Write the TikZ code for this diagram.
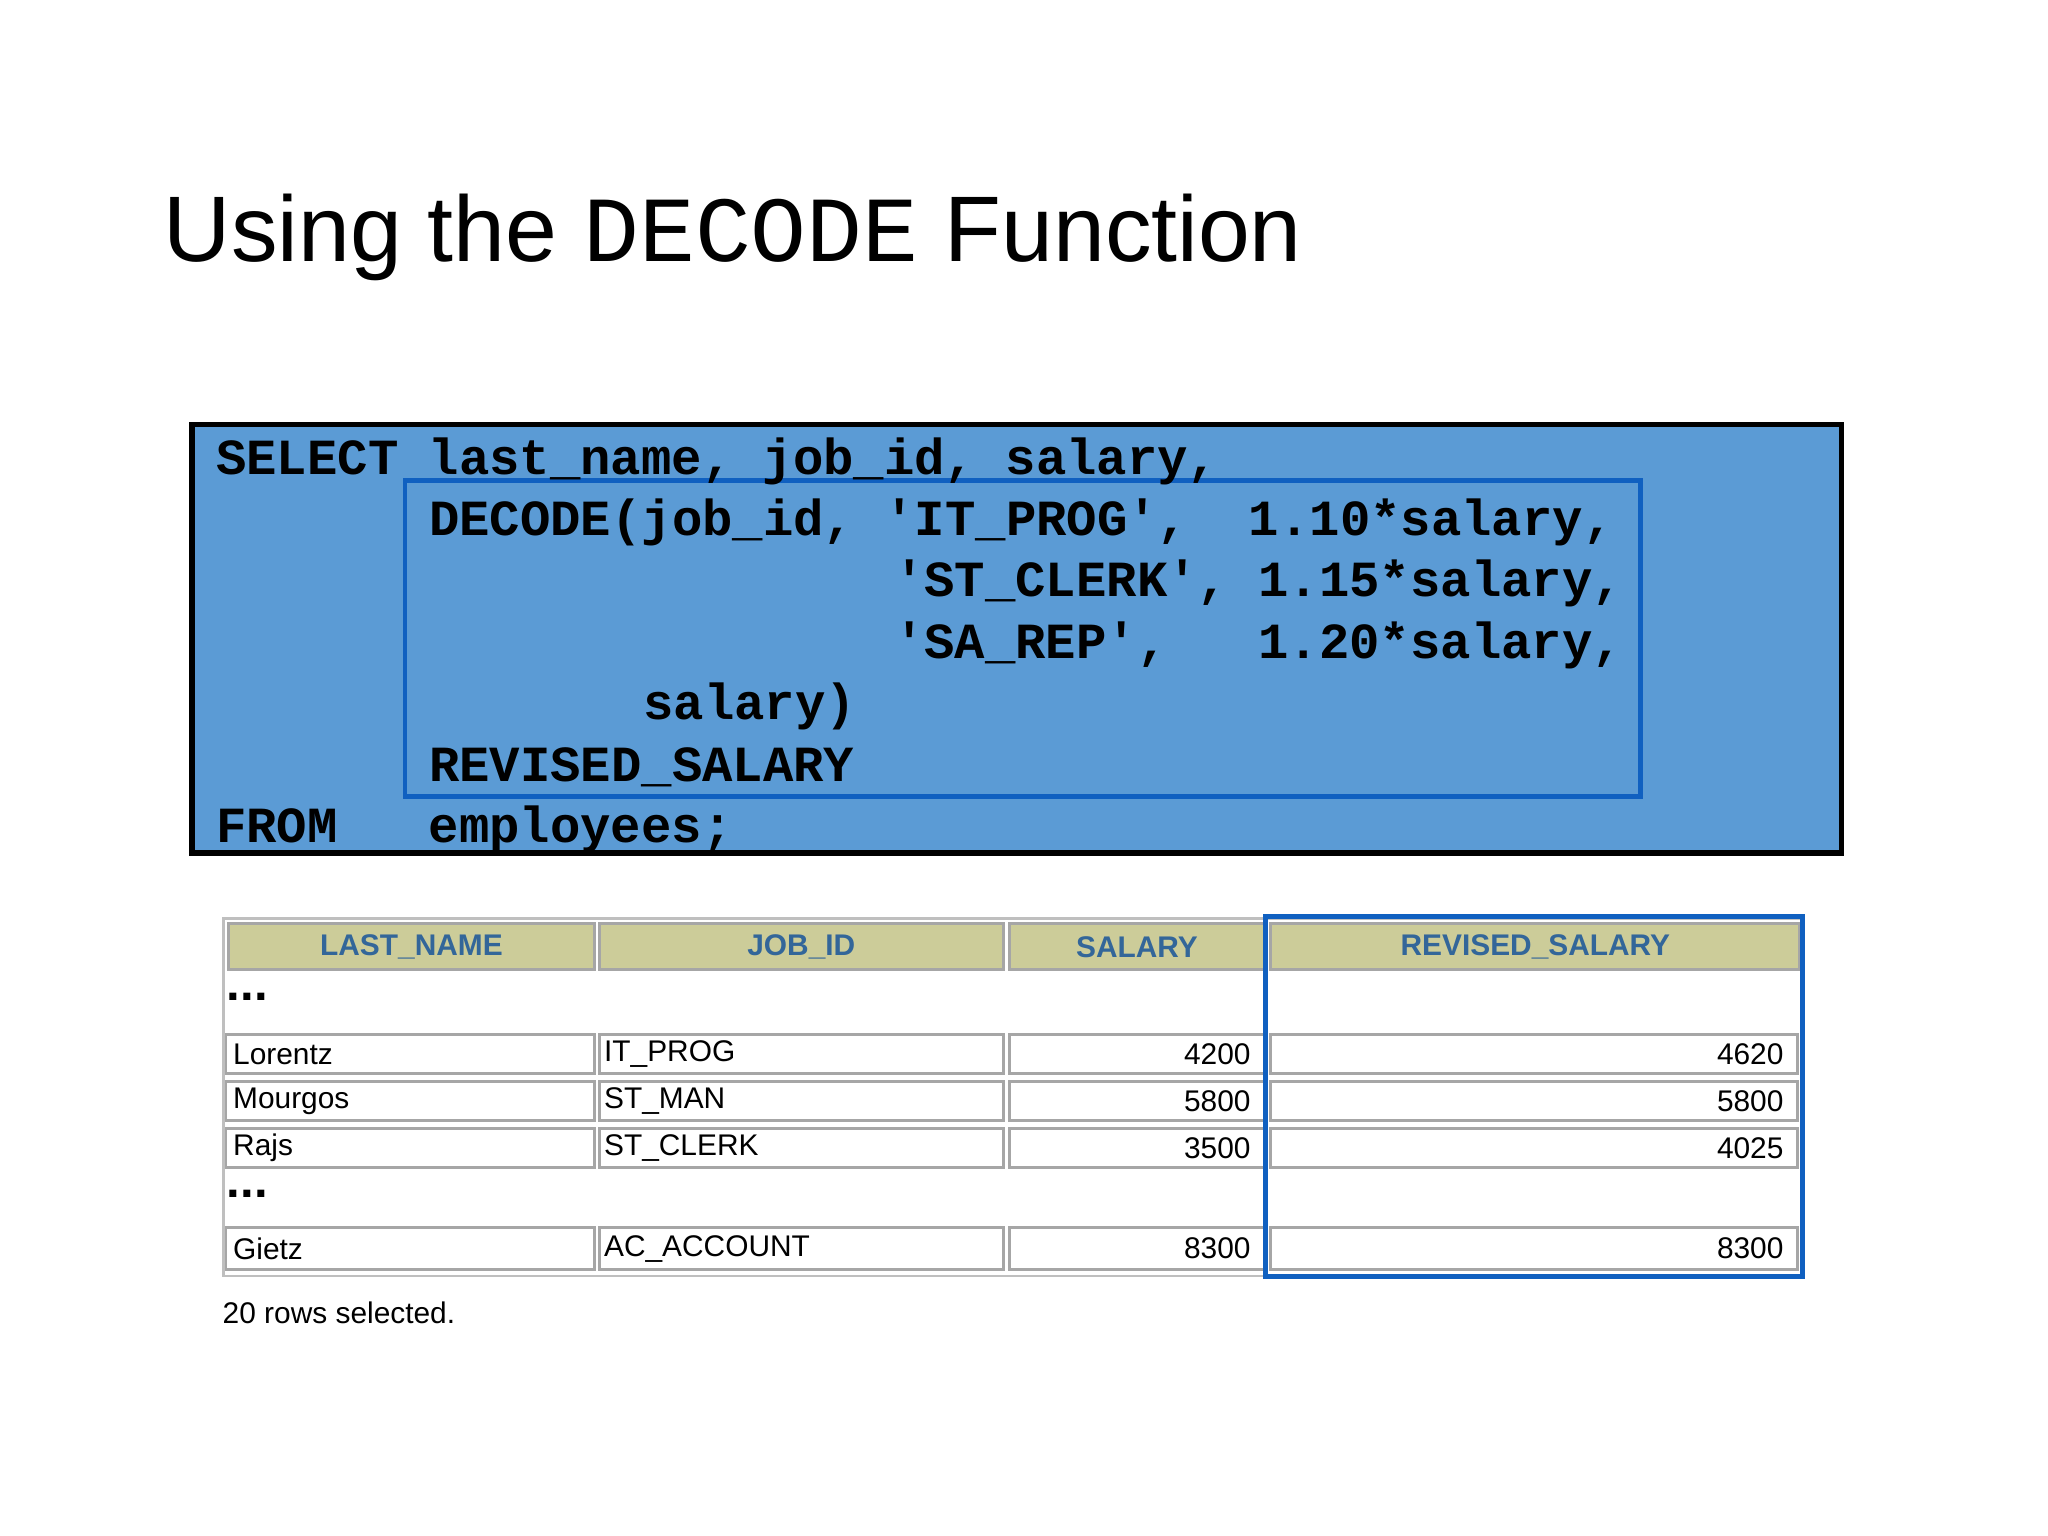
\documentclass[tikz,border=0pt]{standalone}
\usepackage{fontspec}
\setmainfont{Liberation Sans}
\setsansfont{Liberation Sans}
\setmonofont{Liberation Mono}
\usetikzlibrary{positioning}
\definecolor{codeblue}{RGB}{91,155,213}
\definecolor{framblue}{RGB}{16,96,192}
\definecolor{headkhaki}{RGB}{204,204,153}
\definecolor{headtext}{RGB}{51,102,153}

\begin{document}
\begin{tikzpicture}[x=0.01306cm,y=-0.01306cm]

    % `code' is the SQL text, `cell' and `head' are the table boxes.
    \tikzstyle{code} = [anchor=base west,inner sep=0pt,font=\fontsize{14.4}{16}\ttfamily\bfseries]
    \tikzstyle{cell} = [draw=gray!70,fill=white,line width=0.8pt,inner sep=0pt]
    \tikzstyle{head} = [draw=gray!70,fill=headkhaki,line width=0.8pt]
    \tikzstyle{celltext} = [inner sep=0pt,font=\fontsize{8.5}{10}\sffamily]
    %
    \useasboundingbox[fill=white] (0,0) rectangle (1568,1176);

    % Title.
    \node[anchor=base west,inner sep=0pt,font=\fontsize{26.5}{30}\selectfont] (title) at (125,200)
        {Using the {\ttfamily DECODE} Function};

    % Code box.
    \draw[fill=codeblue,line width=1.6pt] (147,325) rectangle (1410,653);
    \draw[framblue,line width=1.3pt] (310,368) rectangle (1256,610);
    \node[code] (l1) at (165,363) {SELECT last\_name, job\_id, salary,};
    \node[code] (l2) at (328,410) {DECODE(job\_id, 'IT\_PROG',\ \ 1.10*salary,};
    \node[code] (l3) at (684,457) {'ST\_CLERK', 1.15*salary,};
    \node[code] (l4) at (684,504) {'SA\_REP',\ \ \ 1.20*salary,};
    \node[code] (l5) at (492,551) {salary)};
    \node[code] (l6) at (328,598) {REVISED\_SALARY};
    \node[code] (l7) at (165,645) {FROM\ \ \ employees;};

    % Table.
    \draw[gray!50,line width=0.8pt] (171,703) rectangle (1380,977);
    \foreach \name/\xa/\xb/\lab in {hname/175/455/LAST\_NAME,hjob/459/768/JOB\_ID,
            hsal/773/968/SALARY,hrev/973/1378/REVISED\_SALARY} {
        \draw[head] (\xa,707) rectangle (\xb,742);
        \node[text=headtext,font=\fontsize{8.5}{10}\sffamily\bfseries] (\name) at ({(\xa+\xb)/2},725) {\lab};
    }
    \foreach \r/\ya/\yb/\nm/\job/\sal/\rev in {1/792/822/Lorentz/IT\_PROG/4200/4620,
            2/828/858/Mourgos/ST\_MAN/5800/5800,3/864/894/Rajs/ST\_CLERK/3500/4025,
            4/940/972/Gietz/AC\_ACCOUNT/8300/8300} {
        \draw[cell] (173,\ya) rectangle (455,\yb);
        \draw[cell] (459,\ya) rectangle (768,\yb);
        \draw[cell] (773,\ya) rectangle (968,\yb);
        \draw[cell] (973,\ya) rectangle (1376,\yb);
        \node[celltext,anchor=west] (n\r) at (178,{(\ya+\yb)/2}) {\nm};
        \node[celltext,anchor=west] (j\r) at (462,{(\ya+\yb)/2}) {\job};
        \node[celltext,anchor=east] (s\r) at (958,{(\ya+\yb)/2}) {\sal};
        \node[celltext,anchor=east] (v\r) at (1366,{(\ya+\yb)/2}) {\rev};
    }
    \node[anchor=west,inner sep=0pt,font=\fontsize{14}{16}\bfseries] (dots1) at (173,763) {...};
    \node[anchor=west,inner sep=0pt,font=\fontsize{14}{16}\bfseries] (dots2) at (173,914) {...};
    \draw[framblue,line width=1.4pt] (969,702) rectangle (1380,977);
    \node[celltext,anchor=west] (rows) at (170,1005) {20 rows selected.};
    %
\end{tikzpicture}
\end{document}
